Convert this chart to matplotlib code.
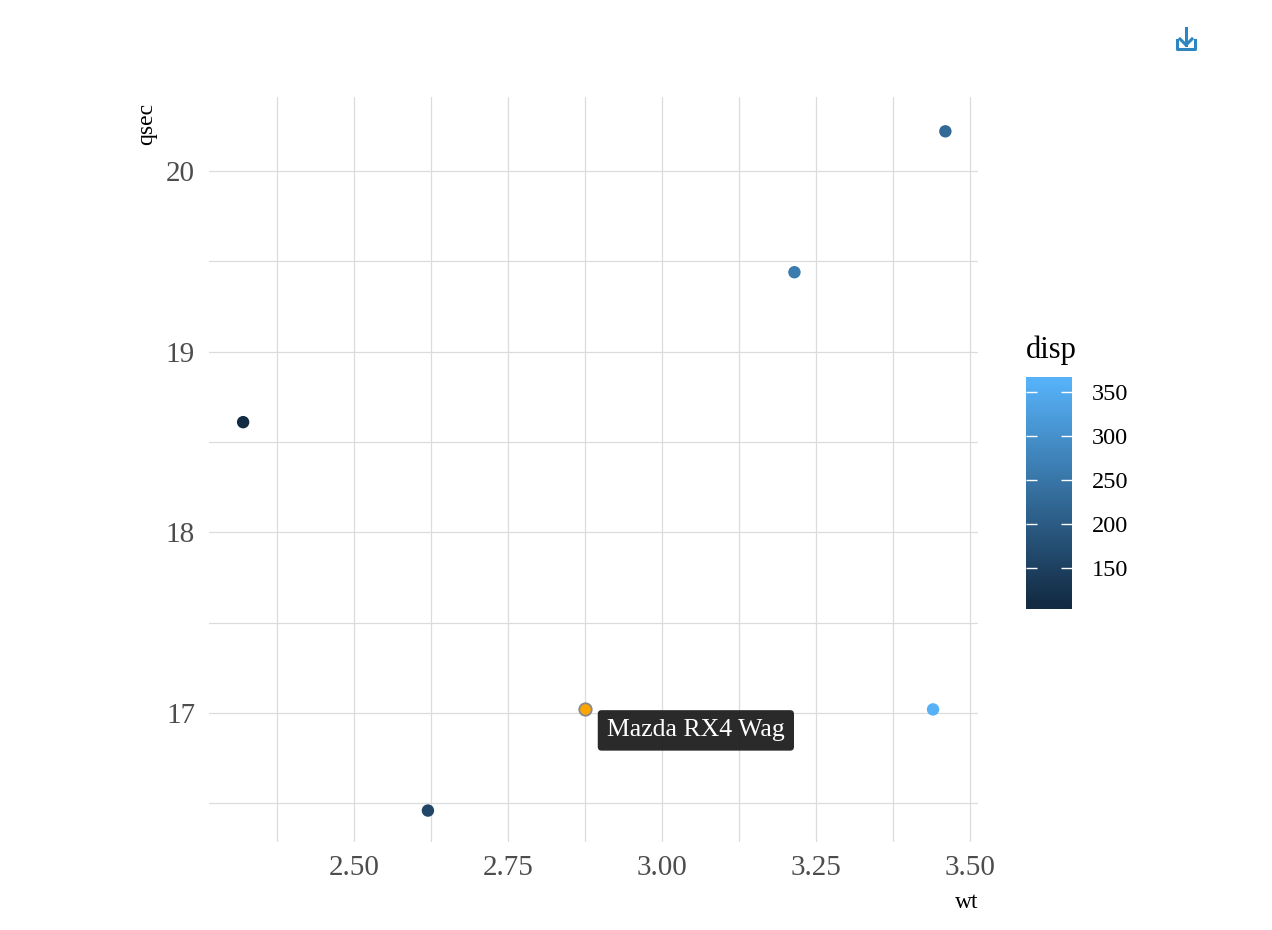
import matplotlib
matplotlib.use("Agg")
import matplotlib.pyplot as plt
from matplotlib.colors import LinearSegmentedColormap, Normalize
from matplotlib.lines import Line2D
import numpy as np

plt.rcParams['font.family'] = ['Liberation Serif', 'DejaVu Serif']

# mtcars rows shown in the chart
cars = ["Mazda RX4", "Mazda RX4 Wag", "Datsun 710", "Hornet 4 Drive",
        "Hornet Sportabout", "Valiant"]
wt = [2.620, 2.875, 2.320, 3.215, 3.440, 3.460]
qsec = [16.46, 17.02, 18.61, 19.44, 17.02, 20.22]
disp = [160, 160, 108, 258, 360, 225]
highlight = "Mazda RX4 Wag"

x_ticks = [2.50, 2.75, 3.00, 3.25, 3.50]
y_ticks = [17, 18, 19, 20]
cbar_ticks = [150, 200, 250, 300, 350]

W, H = 1272, 930
fig = plt.figure(figsize=(W / 100, H / 100), dpi=100)
ax = fig.add_axes([209 / W, 1 - 842 / H, (978 - 209) / W, (842 - 97) / H])

cmap = LinearSegmentedColormap.from_list("gg", ["#132B43", "#56B1F7"])
norm = Normalize(vmin=min(disp), vmax=max(disp))

grid_c = "#dcdcdc"
ax.set_xlim(2.2646, 3.513)
ax.set_ylim(16.286, 20.41)
ax.set_xticks(x_ticks)
ax.set_xticklabels([f"{v:.2f}" for v in x_ticks])
ax.set_yticks(y_ticks)
ax.set_xticks([v - 0.125 for v in x_ticks], minor=True)
ax.set_yticks([v - 0.5 for v in y_ticks], minor=True)
ax.grid(True, which="both", color=grid_c, linewidth=0.9)
ax.set_axisbelow(True)
for s in ax.spines.values():
    s.set_visible(False)
ax.tick_params(which="both", length=0)
ax.tick_params(axis="x", labelsize=21, labelcolor="#4d4d4d", pad=9)
ax.tick_params(axis="y", labelsize=21, labelcolor="#4d4d4d", pad=10)

wt_a = np.array(wt)
qs_a = np.array(qsec)
dp_a = np.array(disp)
mask = np.array([c != highlight for c in cars])
ax.scatter(wt_a[mask], qs_a[mask], c=dp_a[mask], cmap=cmap, norm=norm,
           s=80, linewidths=0, zorder=3)
hi = cars.index(highlight)
ax.scatter([wt[hi]], [qsec[hi]], color="#FFA500", edgecolor="#8a8a8a",
           s=80, linewidths=1.3, zorder=4)

ax.annotate(highlight, xy=(wt[hi], qsec[hi]), xytext=(22, -21),
            textcoords="offset pixels", ha="left", va="center",
            fontsize=18.5, color="white", zorder=5,
            bbox=dict(boxstyle="round,pad=0.36,rounding_size=0.15",
                      fc="#1a1a1a", ec="none", alpha=0.93))

fig.text(147 / W, 1 - 103 / H, "qsec", rotation=90, ha="center", va="top",
         fontsize=17)
fig.text(978 / W, 1 - 902 / H, "wt", ha="right", va="center", fontsize=17)

# colour bar (gradient drawn over the whole bar, clipped at the data range)
cb_lo, cb_hi = 103.4, 367
cax = fig.add_axes([1026 / W, 1 - 609 / H, 46 / W, (609 - 377) / H])
grad = np.linspace(cb_lo, cb_hi, 300).reshape(-1, 1)
cax.imshow(grad, cmap=cmap, norm=norm, origin="lower", aspect="auto",
           extent=[0, 1, cb_lo, cb_hi])
cax.set_xlim(0, 1)
cax.set_ylim(cb_lo, cb_hi)
cax.set_xticks([])
cax.set_yticks(cbar_ticks)
for s in cax.spines.values():
    s.set_visible(False)
cax.yaxis.tick_right()
cax.tick_params(axis="y", direction="in", color="white", length=8, width=1,
                left=True, right=True, labelleft=False, labelright=True,
                labelsize=17.5, pad=14)
fig.text(1026 / W, 1 - 358 / H, "disp", ha="left", va="baseline", fontsize=22)

# download icon
ic = "#2E86C1"
fig.add_artist(Line2D([1186 / W, 1186 / W], [1 - 28 / H, 1 - 45 / H],
                      color=ic, lw=2.2, transform=fig.transFigure))
fig.add_artist(Line2D([1180 / W, 1186 / W, 1192 / W],
                      [1 - 39 / H, 1 - 45 / H, 1 - 39 / H],
                      color=ic, lw=2.2, transform=fig.transFigure))
fig.add_artist(Line2D([1177 / W, 1177 / W, 1195 / W, 1195 / W],
                      [1 - 40 / H, 1 - 49 / H, 1 - 49 / H, 1 - 40 / H],
                      color=ic, lw=2.2, transform=fig.transFigure))

fig.savefig("out.png", dpi=100)
